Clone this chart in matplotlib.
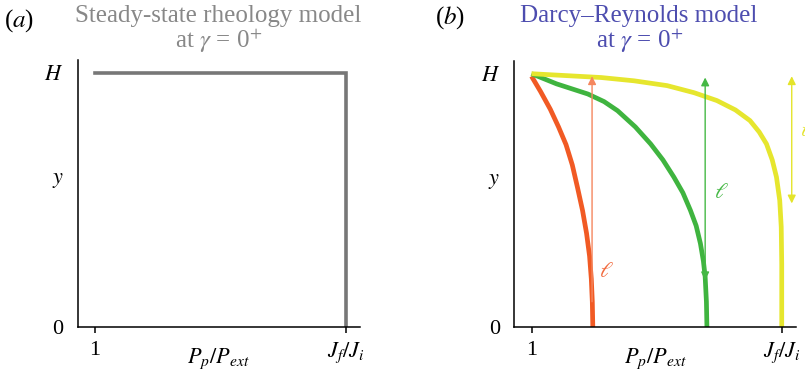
import matplotlib
matplotlib.use('Agg')
import matplotlib.pyplot as plt

plt.rcParams['font.family'] = ['Liberation Serif', 'DejaVu Serif']
plt.rcParams['mathtext.fontset'] = 'stix'

# normalised coordinates: x = 0 at "1", x = 1 at J_f/J_i ; y = 0 at bottom, y = 1 at H
steady_x = [0, 1, 1]
steady_y = [1, 1, 0]

red_x = [0, 0.036, 0.075, 0.108, 0.138, 0.163, 0.184, 0.204, 0.220, 0.232, 0.239, 0.243, 0.245]
red_y = [0.99, 0.93, 0.86, 0.79, 0.72, 0.64, 0.55, 0.46, 0.37, 0.28, 0.19, 0.10, 0]

green_x = [0, 0.10, 0.225, 0.29, 0.344, 0.415, 0.476, 0.525, 0.569, 0.605, 0.635, 0.658, 0.675, 0.687, 0.694, 0.699, 0.701]
green_y = [1, 0.96, 0.92, 0.89, 0.854, 0.79, 0.723, 0.66, 0.592, 0.53, 0.461, 0.40, 0.33, 0.26, 0.198, 0.10, 0]

yellow_x = [0, 0.278, 0.41, 0.542, 0.65, 0.741, 0.815, 0.873, 0.91, 0.939, 0.962, 0.979, 0.992, 0.998, 1.0, 1.0, 1.0]
yellow_y = [1, 0.985, 0.972, 0.953, 0.925, 0.894, 0.857, 0.815, 0.77, 0.723, 0.66, 0.592, 0.50, 0.395, 0.25, 0.10, 0]

# arrows (x, y_start, y_end, two-headed, colour)
arrows = [
    (0.242, 0.10, 0.99, False, '#F5875F'),
    (0.694, 0.185, 0.985, True, '#45B845'),
    (1.04, 0.488, 0.99, True, '#E4E42A'),
]
ell_labels = [(0.27, 0.217, '#F26A3E'), (0.73, 0.528, '#45B845'), (1.075, 0.77, '#E4E42A')]

RED = '#F15A24'
GREEN = '#3FB43F'
YELLOW = '#E6E62E'

fig = plt.figure(figsize=(8.05, 3.70), dpi=100)
axa = fig.add_axes([0.0963, 0.116, 0.351, 0.722])
axb = fig.add_axes([0.6385, 0.116, 0.350, 0.719])


def style(ax):
    ax.set_xlim(-0.07, 1.056)
    ax.set_ylim(0, 1.05)
    for s in ['top', 'right']:
        ax.spines[s].set_visible(False)
    for s in ['left', 'bottom']:
        ax.spines[s].set_linewidth(1.1)
    ax.set_yticks([0, 0.59, 1])
    ax.set_yticklabels(['0', '$y$', '$H$'], fontsize=16)
    ax.tick_params(axis='y', length=0, pad=10)
    ax.set_yticks([0], minor=True)
    ax.tick_params(axis='y', which='minor', length=5, width=1.1)
    ax.set_xticks([0, 1])
    ax.set_xticklabels(['1', '$J_f/J_i$'], fontsize=16)
    ax.tick_params(axis='x', length=4, width=1.1, pad=6)
    ax.set_xlabel('$P_p/P_{ext}$', fontsize=16, labelpad=-14)


style(axa)
style(axb)

axa.plot(steady_x, steady_y, color='#777777', lw=2.6, solid_joinstyle='miter')

for xs, ys, c in [(red_x, red_y, RED), (green_x, green_y, GREEN), (yellow_x, yellow_y, YELLOW)]:
    axb.plot(xs, ys, color=c, lw=3.4, solid_capstyle='butt', solid_joinstyle='round')

for x, y0, y1, both, c in arrows:
    style_str = '<|-|>' if both else '-|>'
    axb.annotate('', xy=(x, y1), xytext=(x, y0),
                 arrowprops=dict(arrowstyle=style_str, color=c, lw=1.0,
                                 mutation_scale=12, shrinkA=0, shrinkB=0),
                 annotation_clip=False)

for x, y, c in ell_labels:
    axb.text(x, y, r'$\ell$', color=c, fontsize=16, ha='left', va='center', clip_on=False)

fig.text(0.024, 0.945, '($a$)', fontsize=18, ha='center', va='center')
fig.text(0.559, 0.952, '($b$)', fontsize=18, ha='center', va='center')
fig.text(0.271, 0.958, 'Steady-state rheology model', fontsize=18, color='#888888', ha='center', va='center')
fig.text(0.271, 0.89, r'at $\gamma$ = 0$^{+}$', fontsize=18, color='#888888', ha='center', va='center')
fig.text(0.794, 0.958, 'Darcy\u2013Reynolds model', fontsize=18, color='#4D4DAF', ha='center', va='center')
fig.text(0.794, 0.89, r'at $\gamma$ = 0$^{+}$', fontsize=18, color='#4D4DAF', ha='center', va='center')

fig.savefig('out.png', dpi=100)
